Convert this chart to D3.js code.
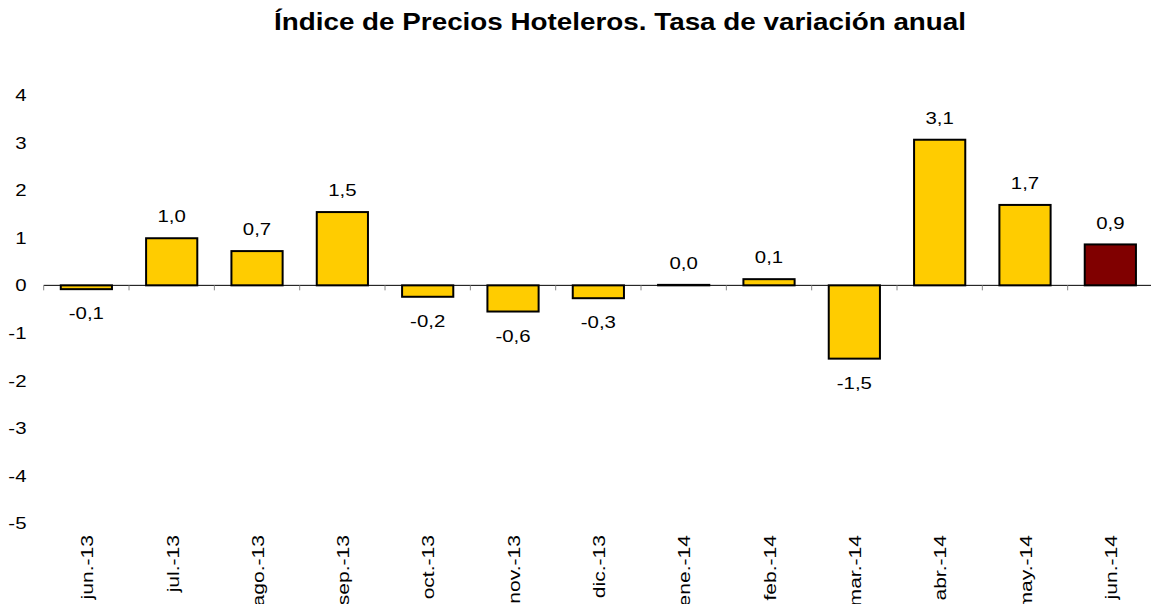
<!DOCTYPE html>
<html lang="es">
<head>
<meta charset="utf-8">
<title>Índice de Precios Hoteleros</title>
<script src="https://d3js.org/d3.v7.min.js"></script>
<style>
    body { margin: 0; background: #fff; }
    text { font-family: "Liberation Sans", Arial, sans-serif; fill: #000; }
    .title { font-size: 23px; font-weight: bold; }
    .ytick, .xtick, .vlabel { font-size: 17px; }
</style>
</head>
<body>
<script>
    var width = 1151,
        height = 604,
        stretch = 1.2; // the source renders its glyphs wider than Arial

    // months shown on the axis
    var months = ["jun.-13", "jul.-13", "ago.-13", "sep.-13", "oct.-13", "nov.-13", "dic.-13",
                  "ene.-14", "feb.-14", "mar.-14", "abr.-14", "may.-14", "jun.-14"];
    // annual rate of change
    var rates = [-0.08, 0.99, 0.72, 1.54, -0.24, -0.55, -0.27, 0.01, 0.13, -1.54, 3.06, 1.69, 0.86];
    // printed data labels
    var rateLabels = ["-0,1", "1,0", "0,7", "1,5", "-0,2", "-0,6", "-0,3", "0,0", "0,1", "-1,5", "3,1", "1,7", "0,9"];
    var yTicks = [4, 3, 2, 1, 0, -1, -2, -3, -4, -5];

    var svg = d3.select("body").append("svg")
        .attr("width", width)
        .attr("height", height);

    var x = d3.scaleBand()
        .domain(months)
        .range([43.7, 1153])
        .paddingInner(0.4)
        .paddingOuter(0.2);

    var y = d3.scaleLinear()
        .domain([-5, 4])
        .range([523.3, 95]);

    function place(px, py, rot, sx) {
        return "translate(" + px + "," + py + ")" + (rot ? " rotate(" + rot + ")" : "") + " scale(" + sx + ",1)";
    }

    // title
    svg.append("text")
        .attr("class", "title")
        .attr("transform", place(620, 29.5, 0, 1.21))
        .attr("text-anchor", "middle")
        .text("Índice de Precios Hoteleros. Tasa de variación anual");

    // y labels (no axis line)
    svg.selectAll("text.ytick")
        .data(yTicks)
        .enter().append("text")
        .attr("class", "ytick")
        .attr("transform", function(d) { return place(26.5, y(d), 0, stretch); })
        .attr("dy", "0.36em")
        .attr("text-anchor", "end")
        .text(function(d) { return d; });

    // bars
    var last = months[months.length - 1];
    svg.selectAll("rect.bar")
        .data(rates)
        .enter().append("rect")
        .attr("class", "bar")
        .attr("x", function(d, i) { return x(months[i]); })
        .attr("y", function(d) { return y(Math.max(0, d)); })
        .attr("width", x.bandwidth())
        .attr("height", function(d) { return Math.abs(y(d) - y(0)); })
        .attr("fill", function(d, i) { return months[i] === last ? "#800000" : "#ffcc00"; })
        .attr("stroke", "#000")
        .attr("stroke-width", 2);

    // zero line with ticks at the category boundaries
    var step = x.step();
    var x0 = 43.7;
    svg.append("line")
        .attr("x1", x0)
        .attr("x2", width)
        .attr("y1", y(0))
        .attr("y2", y(0))
        .attr("stroke", "#000")
        .attr("stroke-width", 1);

    svg.selectAll("line.tick")
        .data(d3.range(months.length + 1))
        .enter().append("line")
        .attr("class", "tick")
        .attr("x1", function(i) { return x0 + i * step; })
        .attr("x2", function(i) { return x0 + i * step; })
        .attr("y1", y(0))
        .attr("y2", y(0) + 5)
        .attr("stroke", "#888")
        .attr("stroke-width", 1);

    // data labels
    svg.selectAll("text.vlabel")
        .data(rates)
        .enter().append("text")
        .attr("class", "vlabel")
        .attr("transform", function(d, i) {
            var cx = x(months[i]) + x.bandwidth() / 2,
                cy = d >= 0 ? y(d) - 22 : y(d) + 24;
            return place(cx, cy, 0, stretch);
        })
        .attr("dy", "0.36em")
        .attr("text-anchor", "middle")
        .text(function(d, i) { return rateLabels[i]; });

    // month labels, rotated
    svg.selectAll("text.xtick")
        .data(months)
        .enter().append("text")
        .attr("class", "xtick")
        .attr("transform", function(d) {
            return place(x(d) + x.bandwidth() / 2, 535, -90, 1.24);
        })
        .attr("dy", "0.4em")
        .attr("text-anchor", "end")
        .text(function(d) { return d; });
</script>
</body>
</html>
